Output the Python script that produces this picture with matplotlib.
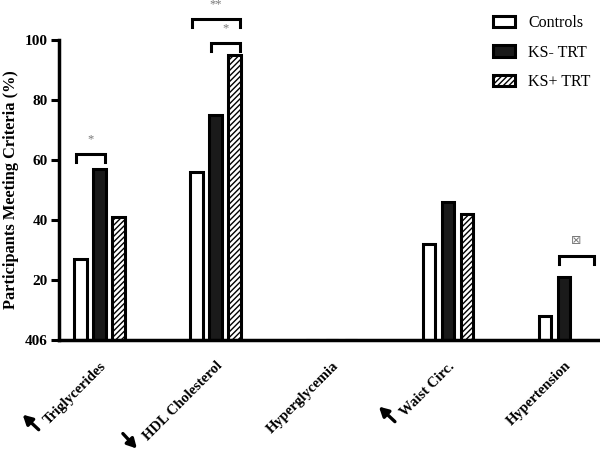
import matplotlib
matplotlib.use("Agg")
import matplotlib.pyplot as plt
import matplotlib.transforms as mtrans
import numpy as np

categories = ["Triglycerides", "HDL Cholesterol", "Hyperglycemia", "Waist Circ.", "Hypertension"]
direction = ["up", "down", None, "up", None]
controls = [27, 56, 0, 32, 8]
ks_minus = [57, 75, 0, 46, 21]
ks_plus = [41, 95, 0, 42, 0]
series_names = ["Controls", "KS- TRT", "KS+ TRT"]
yticks = [0, 20, 40, 60, 80, 100]
ytick_labels = ["406", "20", "40", "60", "80", "100"]

# significance brackets: (group, start bar idx, end bar idx, height, symbol)
brackets = [(0, 0, 1, 62, "*"), (1, 0, 2, 107, "**"), (1, 1, 2, 99, "*"), (4, 1, 2, 28, "\u22a0")]

plt.rcParams['font.family'] = ['Liberation Serif', 'DejaVu Serif']
plt.rcParams['hatch.linewidth'] = 1.0

fig = plt.figure(figsize=(6, 4.49), dpi=100)
ax = fig.add_axes([0.098, 0.2428, 0.902, 0.668])

x = np.arange(len(categories))
w = 0.11
off = 0.164
lw = 2.2
ax.bar(x - off, controls, w, color="white", edgecolor="black", linewidth=lw, label=series_names[0])
ax.bar(x, ks_minus, w, color="#1a1a1a", edgecolor="black", linewidth=lw, label=series_names[1])
ax.bar(x + off, ks_plus, w, color="white", edgecolor="black", linewidth=lw, hatch="//////", label=series_names[2])

for g, a, b, h, s in brackets:
    xa = g + (a - 1) * off - w / 2 + 0.01
    xb = g + (b - 1) * off + w / 2 + (0.04 if b == 2 and g == 4 else -0.01)
    ax.plot([xa, xa, xb, xb], [h - 2.5, h, h, h - 2.5], color="black", lw=2.2, clip_on=False, solid_joinstyle="miter")
    ax.text((xa + xb) / 2, h + 3, s, ha="center", va="bottom", color="#777777", fontsize=9, clip_on=False,
            family=['DejaVu Sans'] if s == "\u22a0" else None)

ax.set_xlim(-0.353, 4.31)
ax.set_ylim(0, 100)
ax.set_yticks(yticks)
ax.set_yticklabels(ytick_labels, fontsize=11, fontweight="bold")
ax.set_xticks(x)
ax.set_xticklabels(categories, rotation=45, ha="right", rotation_mode="anchor", fontsize=10.5, fontweight="bold")
ax.tick_params(axis="x", length=0, pad=14)
ax.tick_params(axis="y", direction="out", length=6, width=2.2, pad=2)
for sp in ["top", "right"]:
    ax.spines[sp].set_visible(False)
for sp in ["left", "bottom"]:
    ax.spines[sp].set_linewidth(2.5)
ax.set_ylabel("Participants Meeting Criteria (%)", fontsize=11.8, fontweight="bold", labelpad=4)

# direction arrows before the rotated category labels
fig.canvas.draw()
renderer = fig.canvas.get_renderer()
for lab, d in zip(ax.get_xticklabels(), direction):
    if d is None:
        continue
    bb = lab.get_window_extent(renderer)
    sx, sy = bb.x0 - 5, bb.y0 - 9
    if d == "up":
        tail = (sx + 2, sy + 6)
        head = (sx - 14, sy + 21)
    else:
        tail = (sx - 13, sy + 19)
        head = (sx + 1, sy + 4)
    ax.annotate("", xy=head, xycoords="figure pixels", xytext=tail, textcoords="figure pixels",
                arrowprops=dict(arrowstyle="-|>,head_length=0.55,head_width=0.3", lw=2.4, color="black",
                                shrinkA=0, shrinkB=0), annotation_clip=False)

ax.legend(loc="upper left", bbox_to_anchor=(0.79, 1.105), frameon=False, fontsize=11.5,
          handlelength=1.4, handleheight=0.7, labelspacing=0.85, borderaxespad=0)

fig.savefig("out.png", dpi=100)
